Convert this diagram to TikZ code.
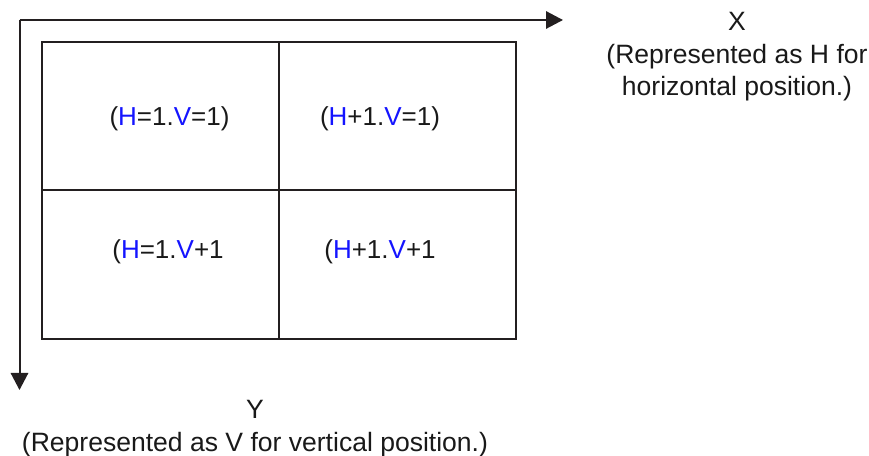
\documentclass[tikz,border=0pt]{standalone}
\usepackage{fontspec}
\setmainfont{Liberation Sans}
\usetikzlibrary{arrows.meta}
\definecolor{ink}{HTML}{231F20}
\definecolor{hv}{RGB}{20,20,255}
\newcommand{\hH}{\textcolor{hv}{H}}
\newcommand{\vV}{\textcolor{hv}{V}}
\begin{document}
\begin{tikzpicture}[x=0.75pt,y=-0.75pt,
  gridline/.style={draw=ink,line width=1.5pt},
  axisline/.style={draw=ink,line width=1.5pt,-{Triangle[length=12.75pt,width=13pt]}},
  celltext/.style={anchor=base,inner sep=0pt,font=\fontsize{19.5pt}{24pt}\selectfont,text=black!90},
  axislabel/.style={anchor=base,inner sep=0pt,align=center,font=\fontsize{19.9pt}{24.5pt}\selectfont,text=black!90}]
\useasboundingbox (0,0) rectangle (869,456);
% axes
\coordinate (o) at (19.5,20);
\coordinate (xend) at (563,20);
\coordinate (yend) at (19.5,390);
\draw[axisline] (o) -- (xend);
\draw[axisline] (o) -- (yend);
% grid
\coordinate (tl) at (42,42);
\coordinate (br) at (516,339.5);
\coordinate (tm) at (279,42);
\coordinate (bm) at (279,339.5);
\coordinate (ml) at (42,190);
\coordinate (mr) at (516,190);
\draw[gridline] (tl) rectangle (br);
\draw[gridline] (tm) -- (bm);
\draw[gridline] (ml) -- (mr);
% cell texts
\node[celltext] (c11) at (169.5,126) {(\hH=1.\vV=1)};
\node[celltext] (c21) at (380,126) {(\hH+1.\vV=1)};
\node[celltext] (c12) at (168,259) {(\hH=1.\vV+1};
\node[celltext] (c22) at (380,259) {(\hH+1.\vV+1};
% axis labels (base anchor = baseline of last line)
\node[axislabel] (xl) at (737,96) {X\\(Represented as H for\\horizontal position.)};
\node[axislabel] (yl) at (255,451) {Y\\(Represented as V for vertical position.)};
\end{tikzpicture}
\end{document}
